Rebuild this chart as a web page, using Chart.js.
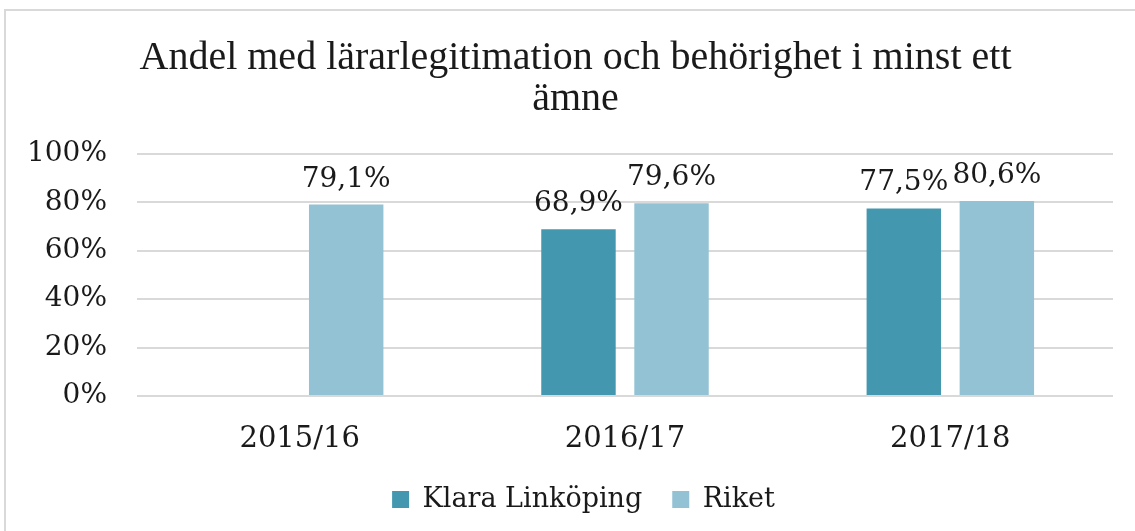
<!DOCTYPE html>
<html>
<head>
<meta charset="utf-8">
<script src="https://cdn.jsdelivr.net/npm/chart.js@4"></script>
<style>
  body { margin: 0; background: #fff; overflow: hidden; }
  #frame { position: absolute; left: 4px; top: 9px; width: 1200px; height: 600px; border: 2px solid #d9d9d9; }
  #wrap { position: absolute; left: 0; top: 0; width: 1135px; height: 531px; }
</style>
</head>
<body>
<div id="frame"></div>
<div id="wrap"><canvas id="chart" width="1135" height="531"></canvas></div>
<script>
const years = ['2015/16', '2016/17', '2017/18'];
const klara = [null, 68.9, 77.5];
const riket = [79.1, 79.6, 80.6];
const yTicks = [0, 20, 40, 60, 80, 100];

const colors = {
    Klara: '#4398b0',
    Riket: '#93c2d4',
    Grid: '#d9d9d9',
    Text: '#1a1a1a'
};

// labels above the bars, Swedish decimal comma
const valueLabels = {
    id: 'valueLabels',
    afterDatasetsDraw(chart) {
        const ctx = chart.ctx;
        ctx.save();
        ctx.font = '28px "DejaVu Serif"';
        ctx.fillStyle = colors.Text;
        ctx.textAlign = 'center';
        ctx.textBaseline = 'alphabetic';
        chart.data.datasets.forEach((ds, i) => {
            chart.getDatasetMeta(i).data.forEach((bar, j) => {
                const v = ds.data[j];
                if (v == null) return;
                ctx.fillText(v.toFixed(1).replace('.', ',') + '%', bar.x, bar.y - 18);
            });
        });
        ctx.restore();
    }
};

// the original centres title and legend a bit right of the canvas middle
const shiftBoxes = {
    id: 'shiftBoxes',
    afterLayout(chart) {
        if (chart.titleBlock) {
            chart.titleBlock.left += 19;
            chart.titleBlock.right += 19;
        }
        if (chart.legend) {
            chart.legend.left += 27;
            chart.legend.right += 27;
        }
    }
};

new Chart(document.getElementById('chart'), {
    type: 'bar',
    data: {
        labels: years,
        datasets: [{
            label: 'Klara Linköping',
            data: klara,
            backgroundColor: colors.Klara,
            categoryPercentage: 0.572,
            barPercentage: 0.8
        }, {
            label: 'Riket',
            data: riket,
            backgroundColor: colors.Riket,
            categoryPercentage: 0.572,
            barPercentage: 0.8
        }]
    },
    plugins: [valueLabels, shiftBoxes],
    options: {
        responsive: false,
        animation: false,
        layout: { padding: { top: 10, right: 22, bottom: 8, left: 0 } },
        plugins: {
            title: {
                display: true,
                text: ['Andel med lärarlegitimation och behörighet i minst ett', 'ämne'],
                color: colors.Text,
                font: { family: '"Liberation Serif"', size: 40, weight: 'normal', lineHeight: 1.025 },
                padding: { top: 28, bottom: 34 }
            },
            legend: {
                position: 'bottom',
                labels: {
                    boxWidth: 17,
                    boxHeight: 17,
                    padding: 30,
                    color: colors.Text,
                    font: { family: '"DejaVu Serif"', size: 27 }
                }
            },
            tooltip: { enabled: false }
        },
        scales: {
            x: {
                afterFit: (axis) => { axis.height = 60; },
                grid: { display: false, drawTicks: false },
                border: { display: false },
                ticks: {
                    color: colors.Text,
                    padding: 26,
                    font: { family: '"DejaVu Serif"', size: 29 }
                }
            },
            y: {
                min: 0,
                max: 100,
                afterFit: (axis) => { axis.width = 137; },
                afterBuildTicks: (axis) => { axis.ticks = yTicks.map(v => ({ value: v })); },
                grid: { color: colors.Grid, lineWidth: 2, drawTicks: false },
                border: { display: false },
                ticks: {
                    color: colors.Text,
                    padding: 30,
                    font: { family: '"DejaVu Serif"', size: 28 },
                    callback: (v) => v + '%'
                }
            }
        }
    }
});
</script>
</body>
</html>
